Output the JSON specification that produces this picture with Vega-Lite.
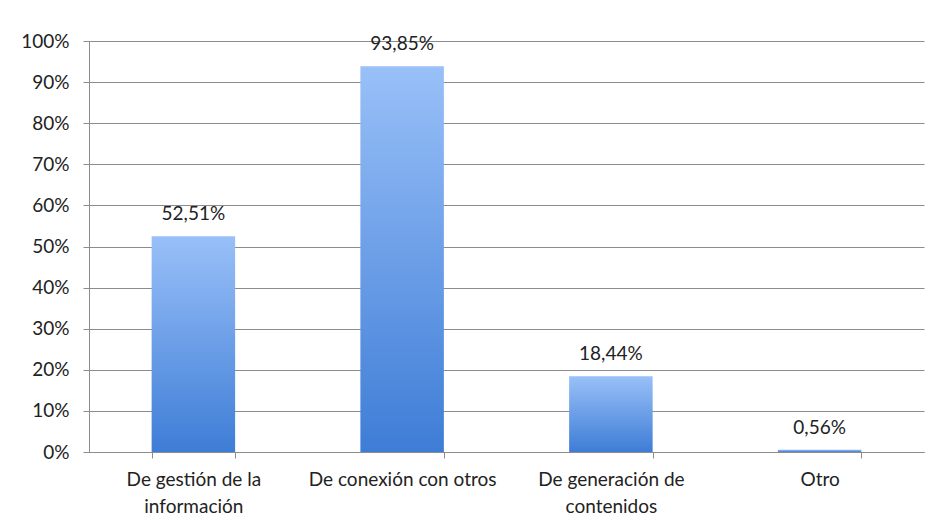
{
  "$schema": "https://vega.github.io/schema/vega-lite/v6.json",
  "width": 835,
  "height": 411,
  "autosize": {"type": "none"},
  "padding": {"left": 89, "top": 41, "right": 14, "bottom": 72},
  "background": "white",
  "data": {
    "values": [
      {"cat": "De gestión de la información", "v": 0.5251},
      {"cat": "De conexión con otros", "v": 0.9385},
      {"cat": "De generación de contenidos", "v": 0.1844},
      {"cat": "Otro", "v": 0.0056}
    ]
  },
  "encoding": {
    "x": {
      "field": "cat",
      "type": "nominal",
      "sort": null,
      "scale": {"paddingInner": 0.6, "paddingOuter": 0.3},
      "axis": {
        "title": null,
        "labelAngle": 0,
        "labelLimit": 400,
        "tickBand": "extent",
        "ticks": true,
        "tickSize": 6,
        "tickColor": "#8c8c8c",
        "domainColor": "#8c8c8c",
        "labelFont": "Lato",
        "labelFontSize": 19,
        "labelColor": "#222222",
        "labelPadding": 12,
        "labelLineHeight": 27,
        "labelExpr": "datum.value == 'De gestión de la información' ? ['De gestión de la', 'información'] : datum.value == 'De generación de contenidos' ? ['De generación de', 'contenidos'] : datum.value"
      }
    },
    "y": {
      "field": "v",
      "type": "quantitative",
      "scale": {"domain": [0, 1], "nice": false},
      "axis": {
        "title": null,
        "format": ".0%",
        "values": [0, 0.1, 0.2, 0.3, 0.4, 0.5, 0.6, 0.7, 0.8, 0.9, 1],
        "grid": true,
        "gridColor": "#8c8c8c",
        "gridOpacity": 1,
        "tickColor": "#8c8c8c",
        "tickSize": 6,
        "domainColor": "#8c8c8c",
        "labelFont": "Lato",
        "labelFontSize": 19,
        "labelColor": "#222222",
        "labelPadding": 14
      }
    }
  },
  "layer": [
    {
      "mark": {
        "type": "bar",
        "color": {
          "gradient": "linear",
          "x1": 0, "y1": 0, "x2": 0, "y2": 1,
          "stops": [
            {"offset": 0, "color": "#99c0f8"},
            {"offset": 1, "color": "#3e7dd6"}
          ]
        }
      }
    },
    {
      "mark": {
        "type": "text",
        "baseline": "bottom",
        "dy": -12,
        "font": "Lato",
        "fontSize": 19,
        "color": "#222222"
      },
      "encoding": {
        "text": {"field": "v", "type": "quantitative", "format": ".2%"}
      }
    }
  ],
  "config": {
    "view": {"stroke": null},
    "locale": {
      "number": {"decimal": ",", "thousands": ".", "grouping": [3], "currency": ["", " €"]}
    }
  }
}
